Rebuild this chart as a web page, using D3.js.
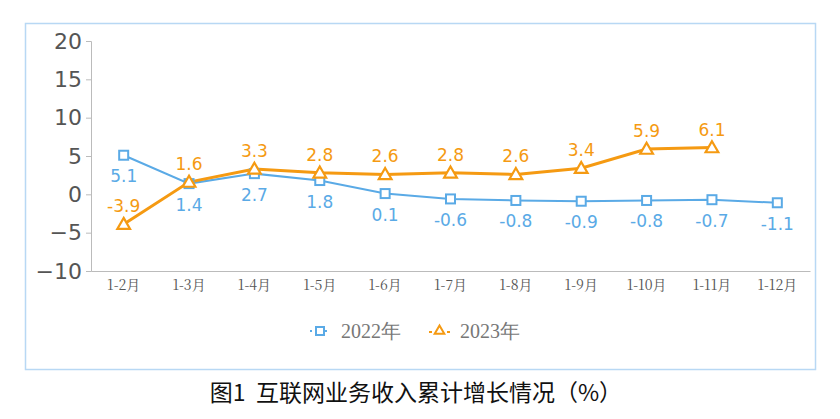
<!DOCTYPE html>
<html><head><meta charset="utf-8">
<script src="https://cdn.jsdelivr.net/npm/d3@7"></script>
<style>body{margin:0;background:#fff}</style></head>
<body><svg id="c" width="840" height="419"></svg>
<script>
const categories=["1-2月","1-3月","1-4月","1-5月","1-6月","1-7月","1-8月","1-9月","1-10月","1-11月","1-12月"];
const s2022=[5.1,1.4,2.7,1.8,0.1,-0.6,-0.8,-0.9,-0.8,-0.7,-1.1];
const s2023=[-3.9,1.6,3.3,2.8,2.6,2.8,2.6,3.4,5.9,6.1];
const yTicks=[-10,-5,0,5,10,15,20];
const svg=d3.select("#c");
const blue="#5aaae6",orange="#f59a12";
svg.append("rect").attr("x",25.5).attr("y",23.5).attr("width",790).attr("height",346).attr("fill","none").attr("stroke","#b8d8f4").attr("stroke-width",1.5);
const x=d3.scaleBand().domain(categories).range([91,810]);
const y=d3.scaleLinear().domain([-10,20]).range([271,41]);
const ya=svg.append("g").attr("transform","translate(91,0)").call(d3.axisLeft(y).tickValues(yTicks).tickSize(5).tickPadding(4));
ya.selectAll("text").attr("font-family","Verdana, DejaVu Sans, sans-serif").attr("font-size",22).attr("fill","#555");
ya.selectAll("line,path").attr("stroke","#bbb");
const xa=svg.append("g").attr("transform","translate(0,271)").call(d3.axisBottom(x).tickSize(0).tickPadding(9));
xa.selectAll("text").attr("font-family","Noto Serif CJK SC, serif").attr("font-size",14).attr("fill","#555");
xa.select("path").attr("stroke","#bbb");
const cx=(d,i)=>x(categories[i])+x.bandwidth()/2;
const line=d3.line().x(cx).y(d=>y(d));
svg.append("path").datum(s2022).attr("d",line).attr("fill","none").attr("stroke",blue).attr("stroke-width",2);
svg.append("path").datum(s2023).attr("d",line).attr("fill","none").attr("stroke",orange).attr("stroke-width",3);
svg.selectAll(".sq").data(s2022).enter().append("rect").attr("x",(d,i)=>cx(d,i)-4.5).attr("y",d=>y(d)-4.5).attr("width",9).attr("height",9).attr("fill","#fff").attr("stroke",blue).attr("stroke-width",2);
const tri=d3.symbol().type(d3.symbolTriangle).size(70);
svg.selectAll(".tr").data(s2023).enter().append("path").attr("d",tri).attr("transform",(d,i)=>`translate(${cx(d,i)},${y(d)+1})`).attr("fill","#fff").attr("stroke",orange).attr("stroke-width",2.2);
const lf="Verdana, DejaVu Sans, sans-serif";
svg.selectAll(".l1").data(s2022).enter().append("text").attr("x",cx).attr("y",d=>y(d)+27).attr("text-anchor","middle").attr("font-family",lf).attr("font-size",17).attr("fill",blue).text(d=>d.toFixed(1));
svg.selectAll(".l2").data(s2023).enter().append("text").attr("x",cx).attr("y",d=>y(d)-12).attr("text-anchor","middle").attr("font-family",lf).attr("font-size",17).attr("fill",orange).text(d=>d.toFixed(1));
const lg=svg.append("g");
lg.append("line").attr("x1",310).attr("x2",330).attr("y1",331).attr("y2",331).attr("stroke",blue).attr("stroke-width",2).attr("stroke-dasharray","2,3");
lg.append("rect").attr("x",316).attr("y",327).attr("width",8).attr("height",8).attr("fill","#fff").attr("stroke",blue).attr("stroke-width",2);
lg.append("text").attr("x",341).attr("y",338).attr("font-family","Liberation Serif, serif").attr("font-size",20).attr("fill","#777").text("2022年");
lg.append("line").attr("x1",429).attr("x2",450).attr("y1",332).attr("y2",332).attr("stroke",orange).attr("stroke-width",2).attr("stroke-dasharray","3,3");
lg.append("path").attr("d",d3.symbol().type(d3.symbolTriangle).size(40)).attr("transform","translate(439.5,331)").attr("fill","#fff").attr("stroke",orange).attr("stroke-width",2);
lg.append("text").attr("x",460).attr("y",338).attr("font-family","Liberation Serif, serif").attr("font-size",20).attr("fill","#777").text("2023年");
svg.append("text").attr("x",416).attr("y",401).attr("text-anchor","middle").attr("font-family","Noto Sans CJK SC").attr("font-size",23).attr("fill","#111").attr("xml:space","preserve").text("图1  互联网业务收入累计增长情况（%）");
</script></body></html>
